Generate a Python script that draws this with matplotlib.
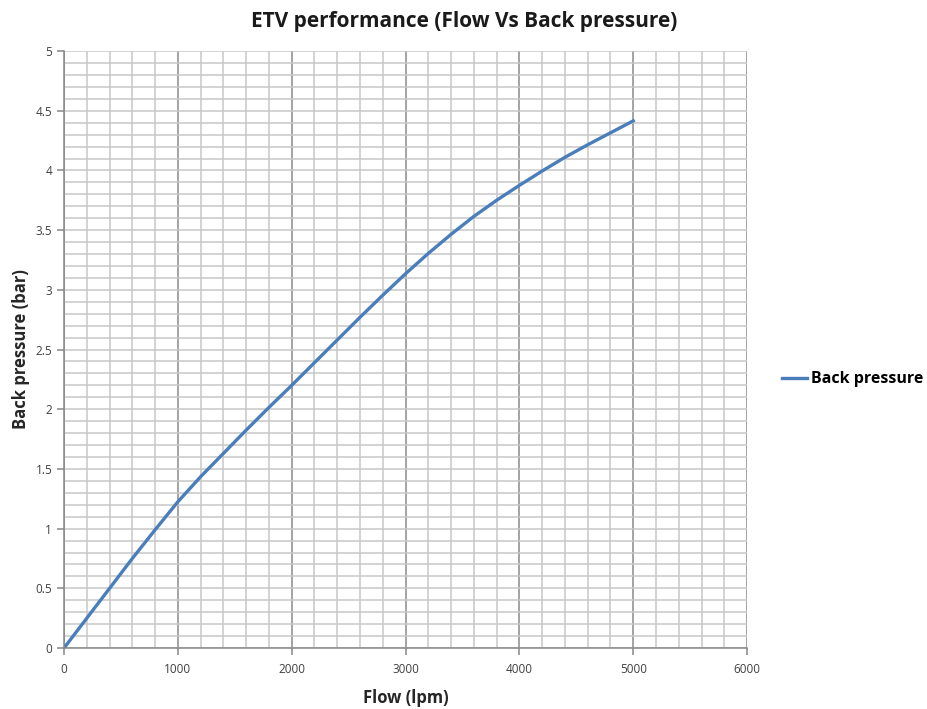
import numpy as np
import matplotlib.pyplot as plt
from matplotlib.ticker import MultipleLocator

# values
flow = [0, 200, 400, 600, 800, 1000, 1200, 1400, 1600, 1800, 2000, 2200, 2400,
        2600, 2800, 3000, 3200, 3400, 3600, 3800, 4000, 4200, 4400, 4600, 4800, 5000]
back_pressure = [0, 0.25, 0.50, 0.75, 0.99, 1.225, 1.435, 1.63, 1.825, 2.015, 2.20,
                 2.39, 2.58, 2.77, 2.955, 3.135, 3.305, 3.465, 3.615, 3.75, 3.875,
                 3.995, 4.11, 4.215, 4.315, 4.415]

plt.rcParams['font.family'] = ['Open Sans', 'DejaVu Sans']

fig = plt.figure(figsize=(9.28, 7.09), dpi=100)
ax = fig.add_axes([0.069, 0.086, 0.736, 0.842])

ax.plot(flow, back_pressure, color='#4a7ebb', lw=2.4, label='Back pressure')

ax.set_xlim(0, 6000)
ax.set_ylim(0, 5)
ax.xaxis.set_major_locator(MultipleLocator(1000))
ax.xaxis.set_minor_locator(MultipleLocator(200))
ax.yaxis.set_major_locator(MultipleLocator(0.5))
ax.yaxis.set_minor_locator(MultipleLocator(0.1))
ax.yaxis.set_major_formatter(lambda v, p: f'{v:g}')

# only the vertical 1000-lines are dark, everything else light grey
ax.grid(which='both', color='#c8c8c8', lw=1.1)
ax.grid(which='major', axis='x', color='#8a8a8a', lw=1.1)
ax.set_axisbelow(True)

for s in ['top', 'right']:
    ax.spines[s].set_visible(False)
for s in ['left', 'bottom']:
    ax.spines[s].set_color('#868686')
    ax.spines[s].set_linewidth(1.1)

ax.tick_params(which='major', length=5, color='#868686', labelsize=8.5,
               labelcolor='#404040', width=1.1)
ax.tick_params(which='minor', length=0)
ax.tick_params(axis='x', pad=6)

ax.set_xlabel('Flow (lpm)', fontsize=12, fontweight='bold', color='#262626', labelpad=9)
ax.set_ylabel('Back pressure (bar)', fontsize=12, fontweight='bold', color='#262626', labelpad=4)
fig.suptitle('ETV performance (Flow Vs Back pressure)', x=0.5, y=0.985, fontsize=15,
             fontweight='bold', color='#1a1a1a')

ax.legend(loc='center left', bbox_to_anchor=(1.03, 0.45), frameon=False,
          handlelength=1.6, handletextpad=0.2, prop={'weight': 'bold', 'size': 11.5})

fig.savefig('out.png', dpi=100)
